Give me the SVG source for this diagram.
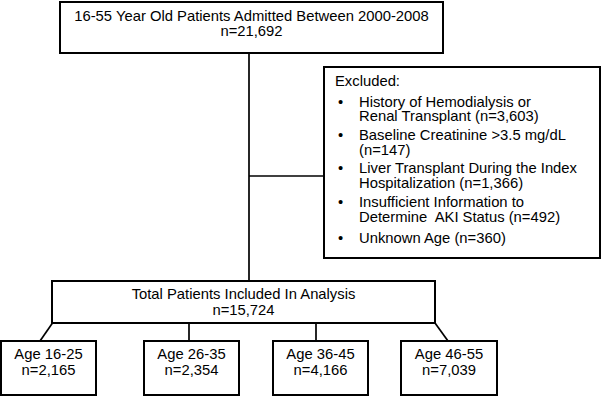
<svg xmlns="http://www.w3.org/2000/svg" width="602" height="398" viewBox="0 0 602 398">
<style>
.box{fill:#fff;stroke:#000;stroke-width:2}
.ln{fill:none;stroke:#000;stroke-width:1.7}
text{font-family:"Liberation Sans",Arial,sans-serif;font-size:14.8px;fill:#000}
.c{text-anchor:middle}
</style>
<rect width="602" height="398" fill="#fff"/>
<g id="connectors">
<line class="ln" x1="249" y1="53" x2="249" y2="281"/>
<line class="ln" x1="249" y1="176" x2="324" y2="176"/>
<line class="ln" x1="52.5" y1="323" x2="40" y2="341"/>
<line class="ln" x1="189" y1="323" x2="189" y2="341"/>
<line class="ln" x1="316" y1="323" x2="316" y2="341"/>
<line class="ln" x1="435" y1="323" x2="448" y2="341"/>
</g>
<g id="top">
<rect class="box" x="60" y="2" width="383" height="51"/>
<text class="c" x="251.5" y="21">16-55 Year Old Patients Admitted Between 2000-2008</text>
<text class="c" x="251.5" y="36">n=21,692</text>
</g>
<g id="excluded">
<rect class="box" x="324" y="67" width="276" height="191"/>
<text x="335" y="86">Excluded:</text>
<text x="338" y="106.5">•</text>
<text x="359" y="106.5">History of Hemodialysis or</text>
<text x="359" y="121">Renal Transplant (n=3,603)</text>
<text x="338" y="140">•</text>
<text x="359" y="140">Baseline Creatinine &gt;3.5 mg/dL</text>
<text x="359" y="154.5">(n=147)</text>
<text x="338" y="173">•</text>
<text x="359" y="173">Liver Transplant During the Index</text>
<text x="359" y="187.5">Hospitalization (n=1,366)</text>
<text x="338" y="207">•</text>
<text x="359" y="207">Insufficient Information to</text>
<text x="359" y="221.5" xml:space="preserve">Determine  AKI Status (n=492)</text>
<text x="338" y="242.5">•</text>
<text x="359" y="242.5">Unknown Age (n=360)</text>
</g>
<g id="total">
<rect class="box" x="52" y="281" width="383" height="42"/>
<text class="c" x="243.5" y="298.5">Total Patients Included In Analysis</text>
<text class="c" x="243.5" y="315">n=15,724</text>
</g>
<g id="age1">
<rect class="box" x="1" y="341" width="95" height="54"/>
<text class="c" x="48.5" y="359">Age 16-25</text>
<text class="c" x="48.5" y="374.5">n=2,165</text>
</g>
<g id="age2">
<rect class="box" x="144" y="341" width="95" height="54"/>
<text class="c" x="191.5" y="359">Age 26-35</text>
<text class="c" x="191.5" y="374.5">n=2,354</text>
</g>
<g id="age3">
<rect class="box" x="273" y="341" width="95" height="54"/>
<text class="c" x="320.5" y="359">Age 36-45</text>
<text class="c" x="320.5" y="374.5">n=4,166</text>
</g>
<g id="age4">
<rect class="box" x="401" y="341" width="96" height="54"/>
<text class="c" x="449" y="359">Age 46-55</text>
<text class="c" x="449" y="374.5">n=7,039</text>
</g>
</svg>
